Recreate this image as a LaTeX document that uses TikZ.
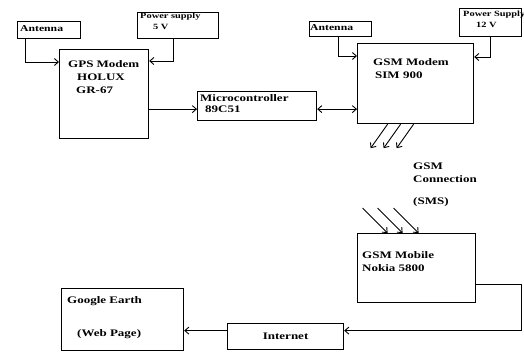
\documentclass[tikz,border=0pt]{standalone}
\usepackage{fontspec}
\setmainfont{Liberation Serif}[FakeStretch=1.3]
\usetikzlibrary{arrows.meta,calc,positioning}
\tikzset{
  blk/.style={draw,line width=1.2pt,inner sep=0pt,anchor=north west},
  txt/.style={anchor=north west,inner sep=0pt,align=left,
    font=\bfseries\fontsize{10}{13}\selectfont},
  smalltxt/.style={txt,font=\bfseries\fontsize{8}{11}\selectfont},
  link/.style={line width=0.9pt,->},
  twoway/.style={line width=0.9pt,<->},
  >={Straight Barb[length=4pt,width=7pt]}
}

\begin{document}
\begin{tikzpicture}[x=1pt,y=-1pt]
  \useasboundingbox (0,0) rectangle (524,351);
  % blocks
  \node[blk,minimum width=63,minimum height=17] (ant1) at (17,21) {};
  \node[blk,minimum width=81,minimum height=26] (pw1) at (137,12) {};
  \node[blk,minimum width=89,minimum height=89] (gps) at (59,49) {};
  \node[blk,minimum width=119,minimum height=29] (mcu) at (197,91) {};
  \node[blk,minimum width=62,minimum height=15] (ant2) at (309,21) {};
  \node[blk,minimum width=62,minimum height=28] (pw2) at (459,8) {};
  \node[blk,minimum width=116,minimum height=80] (gsm) at (357,43) {};
  \node[blk,minimum width=118,minimum height=69] (mob) at (357,233) {};
  \node[blk,minimum width=122,minimum height=62] (ge) at (61,288) {};
  \node[blk,minimum width=116,minimum height=26] (net) at (227,323) {};
  % texts
  \node[txt,font=\bfseries\fontsize{9}{11}\selectfont] (ant1T) at (20,25) {Antenna};
  \node[smalltxt] (pw1T) at (140,13) {Power supply\\\hspace{13pt}5 V};
  \node[txt] (gpsT) at (68,60) {GPS Modem\\\hspace{9pt}HOLUX\\\hspace{8pt}GR-67};
  \node[txt,font=\bfseries\fontsize{10}{11.5}\selectfont] (mcuT) at (200,94)
    {Microcontroller\\\hspace{5pt}89C51};
  \node[txt,font=\bfseries\fontsize{9}{11}\selectfont] (ant2T) at (310,24) {Antenna};
  \node[smalltxt] (pw2T) at (463,11) {Power Supply\\\hspace{13pt}12 V};
  \node[txt] (gsmT) at (373,58) {GSM Modem\\\hspace{2pt}SIM 900};
  \node[txt] (connT) at (413,163) {GSM\\Connection\\[9pt](SMS)};
  \node[txt] (mobT) at (362,251) {GSM Mobile\\Nokia 5800};
  \node[txt] (geT) at (67,296) {Google Earth\\[20pt]\hspace{10pt}(Web Page)};
  \node[txt,anchor=center] (netT) at (net) {Internet};
  % connections
  \coordinate (mcuIn) at ([yshift=-3pt]mcu.west);
  \coordinate (mcuOut) at ([yshift=-3pt]mcu.east);
  \coordinate (netR) at ([yshift=6pt]net.east);
  \coordinate (netL) at ([yshift=6pt]net.west);
  \draw[link] ([xshift=8pt]ant1.south west) |- ([yshift=-13pt]gps.north west);
  \draw[link] ([xshift=36pt]pw1.south west) |- ([yshift=-12pt]gps.north east);
  \draw[link] (gps.east |- mcuIn) -- (mcuIn);
  \draw[twoway] (mcuOut) -- (mcuOut -| gsm.west);
  \draw[link] ([xshift=29pt]ant2.south west) |- ([yshift=-13pt]gsm.north west);
  \draw[link] ([xshift=31pt]pw2.south west) |- ([yshift=-14pt]gsm.north east);
  \foreach \dx in {-28,-15,-2}
    \draw[link] ([xshift=\dx pt]gsm.south) -- ++(-17,24);
  \foreach \dx in {-29,-14,2}
    \draw[link] ($(mob.north)+(\dx-25,-25)$) -- ([xshift=\dx pt]mob.north);
  \draw[link] ([yshift=19pt]mob.south east) -- ++(45,0) |- (netR);
  \draw[link] (netL) -- (netL -| ge.east);
\end{tikzpicture}
\end{document}
